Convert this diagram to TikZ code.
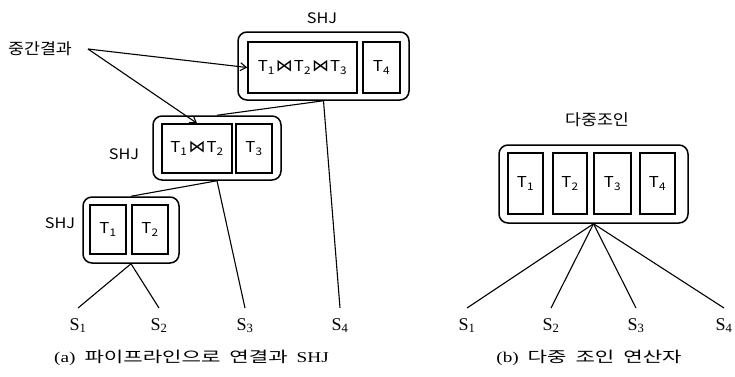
\documentclass[tikz,border=0pt]{standalone}
\usepackage{fontspec}
\usepackage{graphicx}
\usetikzlibrary{arrows.meta}
\setmainfont{Liberation Serif}
\newfontfamily\kr[FakeStretch=1.12]{Noto Sans CJK KR}
\newfontfamily\krcap[FakeStretch=1.1]{Noto Sans CJK KR}
\newfontfamily\ltserif{Liberation Serif}
\newfontfamily\djv{DejaVu Sans}
\newcommand\cellfont{\kr\fontsize{15}{17}\selectfont}
\newcommand\lblfont{\kr\fontsize{14.5}{16}\selectfont}
\newcommand\srcfont{\ltserif\fontsize{18}{20}\selectfont}
\newcommand\capfont{\fontsize{15}{17}\selectfont}
\newcommand\Tn[1]{T\textsubscript{#1}}
\newcommand\Sn[1]{S\textsubscript{#1}}
\newcommand\jn{\hspace{1pt}{\djv\fontsize{17}{17}\selectfont ⋈}\hspace{1pt}}
\begin{document}
\begin{tikzpicture}[x=1pt,y=-1pt,
  outer/.style={draw, line width=1.5pt, rounded corners=9pt, inner sep=0pt},
  cell/.style={draw, line width=1.5pt, inner sep=0pt, font=\cellfont},
  lbl/.style={inner sep=0pt, font=\lblfont},
  src/.style={anchor=north, inner xsep=0pt, inner ysep=10pt, font=\srcfont},
  edge/.style={line width=1.1pt},
  ptr/.style={line width=1.1pt, -{Straight Barb[length=6pt,width=8pt]}},
  captext/.style={inner sep=0pt}]
\useasboundingbox (0,0) rectangle (735,376);

% ---- (a) pipelined symmetric hash joins ----
\node[outer, minimum width=171pt, minimum height=68pt] (topO) at (323.5,66) {};
\node[cell, minimum width=109pt, minimum height=51pt] (topA) at (302.5,67.5) {\Tn{1}\jn\Tn{2}\jn\Tn{3}};
\node[cell, minimum width=37pt, minimum height=51pt] (topB) at (381.5,67.5) {\Tn{4}};
\node[lbl] (topL) at (322,18) {SHJ};

\node[outer, minimum width=128pt, minimum height=64pt] (midO) at (217,148) {};
\node[cell, minimum width=70pt, minimum height=49pt] (midA) at (197,148.5) {\Tn{1}\jn\Tn{2}};
\node[cell, minimum width=36pt, minimum height=49pt] (midB) at (254,148.5) {\Tn{3}};
\node[lbl] (midL) at (124,154) {SHJ};

\node[outer, minimum width=96pt, minimum height=66pt] (botO) at (131,230) {};
\node[cell, minimum width=36pt, minimum height=49pt] (botA) at (108,229.5) {\Tn{1}};
\node[cell, minimum width=36pt, minimum height=49pt] (botB) at (150,229.5) {\Tn{2}};
\node[lbl] (botL) at (60,223) {SHJ};

\node[lbl, font=\kr\fontsize{15.5}{17}\selectfont] (midres) at (40,49) {중간결과};
\coordinate (fork) at (88,49);
\draw[ptr] (fork) -- (topA.west);
\draw[ptr] (fork) -- (midA.north);

\node[src] (a1) at (78,308) {\Sn{1}};
\node[src] (a2) at (159,308) {\Sn{2}};
\node[src] (a3) at (245,308) {\Sn{3}};
\node[src] (a4) at (340,308) {\Sn{4}};

\draw[edge] (botO.south) -- (a1.north);
\draw[edge] (botO.south) -- (a2.north);
\draw[edge] (midO.south) -- (botO.north);
\draw[edge] (midO.south) -- (a3.north);
\draw[edge] (topO.south) -- (midO.north);
\draw[edge] (topO.south) -- (a4.north);

\node[captext] (capa) at (191.5,358) {\scalebox{1.28}[1]{\capfont{\ltserif (a)}\hspace{7pt}{\krcap 파이프라인으로}\hspace{7pt}{\krcap 연결과}\hspace{7pt}{\ltserif SHJ}}};

% ---- (b) multi-way join operator ----
\node[lbl, font=\kr\fontsize{15.5}{17}\selectfont] (mjL) at (597,120) {다중조인};
\node[outer, minimum width=189pt, minimum height=78pt] (mjO) at (593.5,184) {};
\node[cell, minimum width=35pt, minimum height=61pt] (mj1) at (525.5,183.5) {\Tn{1}};
\node[cell, minimum width=34pt, minimum height=61pt] (mj2) at (570,183.5) {\Tn{2}};
\node[cell, minimum width=37pt, minimum height=61pt] (mj3) at (612.5,183.5) {\Tn{3}};
\node[cell, minimum width=35pt, minimum height=61pt] (mj4) at (657.5,183.5) {\Tn{4}};

\node[src] (b1) at (467,308) {\Sn{1}};
\node[src] (b2) at (551,308) {\Sn{2}};
\node[src] (b3) at (636,308) {\Sn{3}};
\node[src] (b4) at (724,308) {\Sn{4}};
\foreach \s in {b1,b2,b3,b4} \draw[edge] (mjO.south) -- (\s.north);

\node[captext] (capb) at (589,358) {\scalebox{1.28}[1]{\capfont{\ltserif (b)}\hspace{7pt}{\krcap 다중}\hspace{7pt}{\krcap 조인}\hspace{7pt}{\krcap 연산자}}};
\end{tikzpicture}
\end{document}
